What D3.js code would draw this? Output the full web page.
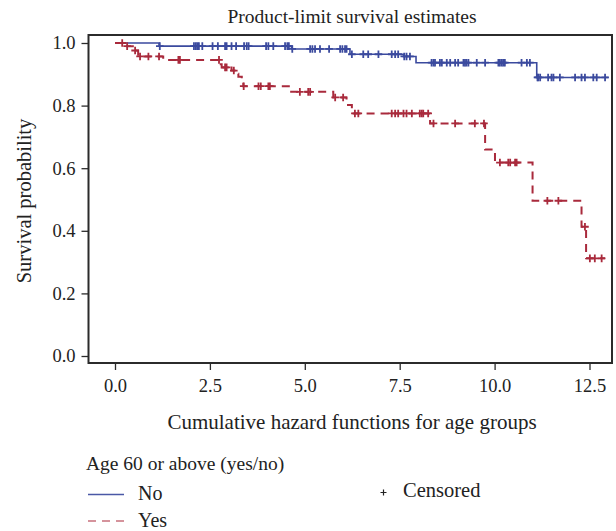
<!DOCTYPE html>
<html><head><meta charset="utf-8">
<script src="https://cdn.jsdelivr.net/npm/d3@7"></script>
<style>
body{margin:0;background:#fff;}
svg text{font-family:"Liberation Serif","DejaVu Serif",serif;fill:#222;}
</style></head>
<body><svg id="c" width="616" height="531"></svg>
<script>
// ---- data ----
const groups = ["No", "Yes"];
// step events: time and survival after the step
const noTimes = [0, 1.16, 4.65, 6.19, 7.60, 7.93, 11.11];
const noSurv  = [1.0, 0.990, 0.981, 0.964, 0.957, 0.937, 0.890];
const noEnd = 13.0;
const noCensor = [1.18,2.08,2.13,2.17,2.21,2.30,2.57,2.71,2.90,2.94,3.07,3.19,3.40,3.47,3.52,3.98,4.04,4.17,4.48,4.54,4.58,4.67,
  5.14,5.20,5.27,5.40,5.64,5.93,5.99,6.06,6.10,6.24,6.54,6.67,6.94,7.29,7.38,7.46,7.62,7.68,7.77,
  8.34,8.39,8.43,8.56,8.61,8.74,8.83,8.96,9.04,9.18,9.22,9.26,9.31,9.53,9.75,10.10,10.14,10.19,10.23,10.27,10.71,10.85,10.93,
  11.13,11.15,11.20,11.41,11.50,11.55,11.72,12.12,12.29,12.38,12.60,12.69,12.91];
const yesTimes = [0, 0.25, 0.47, 0.61, 1.27, 2.75, 2.81, 3.07, 3.19, 3.25, 3.34, 3.38, 4.61, 5.75, 6.10, 6.24, 8.30, 9.75, 10.01, 11.0, 12.29, 12.41];
const yesSurv  = [1.0, 0.990, 0.976, 0.957, 0.946, 0.932, 0.922, 0.912, 0.902, 0.892, 0.880, 0.862, 0.844, 0.826, 0.802, 0.775, 0.743, 0.660, 0.618, 0.496, 0.413, 0.312];
const yesEnd = 12.91;
const yesCensor = [0.19,0.32,0.53,0.66,0.88,1.16,1.67,1.71,2.74,2.90,2.94,3.13,3.39,3.78,3.84,4.04,4.08,4.87,5.09,5.14,5.80,6.01,
  6.32,6.41,7.29,7.38,7.46,7.60,7.68,7.82,8.03,8.08,8.12,8.25,8.39,8.96,9.48,9.72,10.14,10.36,10.41,10.54,10.58,11.39,11.68,12.38,12.51,12.64,12.82];
const xTicks = [0, 2.5, 5, 7.5, 10, 12.5];
const yTicks = [0, 0.2, 0.4, 0.6, 0.8, 1.0];

// ---- layout ----
const svg = d3.select("#c");
const x = d3.scaleLinear().domain([0, 12.5]).range([115, 589.5]);
const y = d3.scaleLinear().domain([0, 1]).range([356, 43]);
const frame = {l: 88.5, t: 35, r: 612, b: 363};
const blue = "#3b4a9e", red = "#a92a3c";

// frame
svg.append("rect").attr("x", frame.l).attr("y", frame.t)
  .attr("width", frame.r - frame.l).attr("height", frame.b - frame.t)
  .attr("fill", "none").attr("stroke", "#2b2b2b").attr("stroke-width", 2);

// axes
const yAxis = d3.axisLeft(y).tickValues(yTicks).tickFormat(d3.format(".1f")).tickSize(7).tickPadding(6);
const gy = svg.append("g").attr("transform", `translate(${frame.l},0)`).call(yAxis);
const xAxis = d3.axisBottom(x).tickValues(xTicks).tickFormat(d3.format(".1f")).tickSize(7).tickPadding(9);
const gx = svg.append("g").attr("transform", `translate(0,${frame.b})`).call(xAxis);
[gx, gy].forEach(g => {
  g.select(".domain").remove();
  g.selectAll(".tick line").attr("stroke", "#2b2b2b").attr("stroke-width", 1.3);
  g.selectAll(".tick text").style("font-size", "18.5px").attr("fill", "#222");
});

// titles
svg.append("text").attr("x", 352).attr("y", 23).attr("text-anchor", "middle")
  .style("font-size", "19.5px").text("Product-limit survival estimates");
svg.append("text").attr("x", 352).attr("y", 429).attr("text-anchor", "middle")
  .style("font-size", "21px").text("Cumulative hazard functions for age groups");
svg.append("text").attr("transform", "translate(31,201) rotate(-90)").attr("text-anchor", "middle")
  .style("font-size", "20.5px").text("Survival probability");

// curves
function stepData(times, surv, end) {
  const pts = times.map((t, i) => [t, surv[i]]);
  pts.push([end, surv[surv.length - 1]]);
  return pts;
}
function survAt(times, surv, t) {
  let v = surv[0];
  for (let i = 0; i < times.length; i++) if (times[i] <= t) v = surv[i];
  return v;
}
const line = d3.line().x(d => x(d[0])).y(d => y(d[1])).curve(d3.curveStepAfter);

const series = [
  {name: "No", times: noTimes, surv: noSurv, end: noEnd, cens: noCensor, color: blue, dash: null, w: 1.6},
  {name: "Yes", times: yesTimes, surv: yesSurv, end: yesEnd, cens: yesCensor, color: red, dash: "8,6", w: 2}
];
series.forEach(s => {
  svg.append("path").datum(stepData(s.times, s.surv, s.end)).attr("d", line)
    .attr("fill", "none").attr("stroke", s.color).attr("stroke-width", s.w)
    .attr("stroke-dasharray", s.dash);
  const g = svg.append("g");
  const h = 3.8;
  s.cens.forEach(t => {
    const cx = x(t), cy = y(survAt(s.times, s.surv, t));
    g.append("path").attr("d", `M${cx - h},${cy}H${cx + h}M${cx},${cy - h}V${cy + h}`)
      .attr("stroke", s.color).attr("stroke-width", 1.8).attr("fill", "none");
  });
});

// legend
svg.append("text").attr("x", 86).attr("y", 470).style("font-size", "19.5px").text("Age 60 or above (yes/no)");
const leg = [{label: "No", color: "#4a58a6", dash: null, yy: 500, ly: 494.5}, {label: "Yes", color: "#c8707c", dash: "8,6", yy: 527, ly: 521}];
leg.forEach(l => {
  svg.append("line").attr("x1", 88).attr("x2", 124).attr("y1", l.ly).attr("y2", l.ly)
    .attr("stroke", l.color).attr("stroke-width", 1.3).attr("stroke-dasharray", l.dash);
  svg.append("text").attr("x", 138).attr("y", l.yy).style("font-size", "20px").text(l.label);
});
svg.append("path").attr("d", "M380.5,492.5H386.5M383.5,489.5V495.5").attr("stroke", "#222").attr("stroke-width", 1.2);
svg.append("text").attr("x", 403).attr("y", 497).style("font-size", "20.5px").text("Censored");
</script></body></html>
